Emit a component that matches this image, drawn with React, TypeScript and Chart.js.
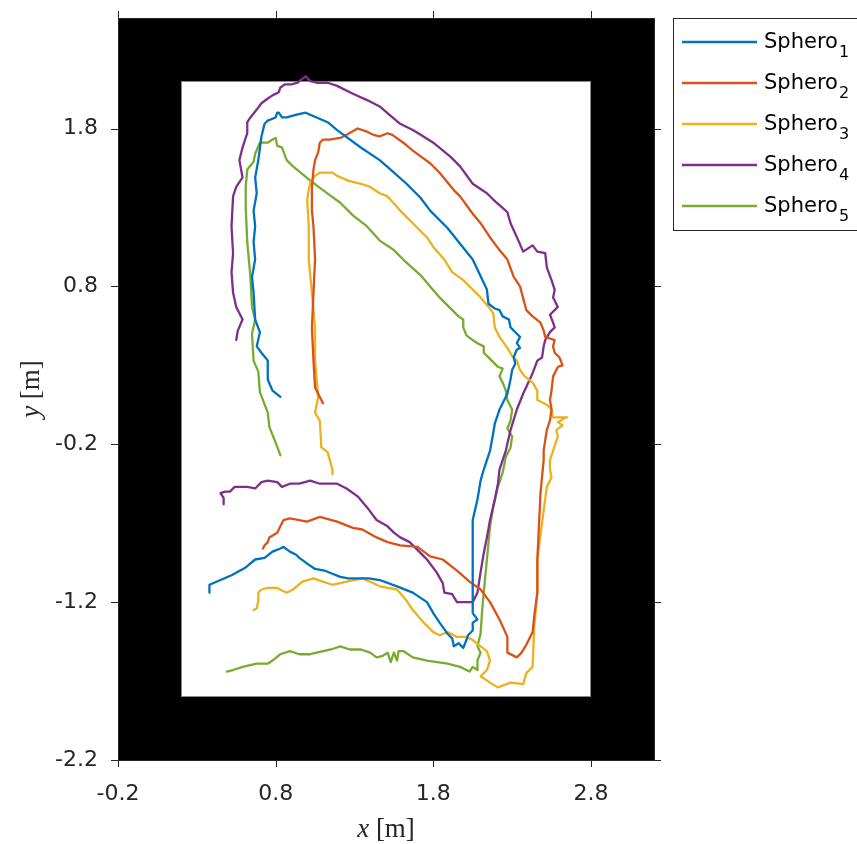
import { useEffect, useRef } from "react";
import { Chart, registerables } from "chart.js";

Chart.register(...registerables);

// ---- data ----
const seriesBase = "Sphero";
const seriesIndex = ["1", "2", "3", "4", "5"];
const seriesColors = ["#0072BD", "#D95319", "#EDB120", "#7E2F8E", "#77AC30"];
const xTicks = [-0.2, 0.8, 1.8, 2.8];
const yTicks = [-2.2, -1.2, -0.2, 0.8, 1.8];
const xRange = [-0.2, 3.2];
const yRange = [-2.2, 2.5];
const arenaX = [0.2, 2.8];
const arenaY = [-1.8, 2.1];

const sphero1: [number, number][] = [
  [0.38, -1.14], [0.38, -1.09], [0.45, -1.06], [0.52, -1.03], [0.61, -0.98], [0.67, -0.93],
  [0.73, -0.92], [0.78, -0.88], [0.83, -0.86], [0.85, -0.85], [0.89, -0.88], [0.93, -0.9],
  [0.95, -0.92], [1.02, -0.97], [1.05, -0.99], [1.11, -1.0], [1.16, -1.02], [1.21, -1.04],
  [1.26, -1.05], [1.32, -1.05], [1.39, -1.05], [1.46, -1.06], [1.57, -1.1], [1.67, -1.14],
  [1.76, -1.2], [1.8, -1.27], [1.84, -1.33], [1.89, -1.4], [1.92, -1.43], [1.93, -1.48],
  [1.96, -1.46], [1.99, -1.49], [2.01, -1.44], [2.02, -1.41], [2.05, -1.38], [2.05, -1.33],
  [2.08, -1.31], [2.05, -1.27], [2.05, -1.2], [2.05, -0.93], [2.05, -0.68], [2.08, -0.55],
  [2.1, -0.43], [2.12, -0.36], [2.16, -0.24], [2.18, -0.13], [2.19, -0.07], [2.22, 0.02],
  [2.24, 0.06], [2.27, 0.12], [2.29, 0.21], [2.3, 0.27], [2.32, 0.31], [2.31, 0.35],
  [2.33, 0.4], [2.35, 0.41], [2.33, 0.44], [2.35, 0.48], [2.33, 0.5], [2.29, 0.54],
  [2.28, 0.59], [2.24, 0.61], [2.22, 0.65], [2.19, 0.66], [2.15, 0.69], [2.14, 0.78],
  [2.05, 0.97], [1.97, 1.07], [1.89, 1.17], [1.78, 1.28], [1.72, 1.36], [1.63, 1.45],
  [1.54, 1.53], [1.46, 1.6], [1.34, 1.68], [1.19, 1.79], [1.13, 1.84], [1.06, 1.87],
  [0.99, 1.9], [0.94, 1.89], [0.87, 1.87], [0.84, 1.87], [0.82, 1.9], [0.81, 1.9],
  [0.8, 1.87], [0.75, 1.85], [0.73, 1.83], [0.72, 1.79], [0.71, 1.75], [0.69, 1.6],
  [0.67, 1.49], [0.68, 1.39], [0.66, 1.28], [0.67, 1.18], [0.66, 1.08], [0.67, 0.97],
  [0.65, 0.86], [0.66, 0.76], [0.67, 0.59], [0.7, 0.51], [0.68, 0.42], [0.71, 0.38],
  [0.75, 0.33], [0.75, 0.21], [0.78, 0.14], [0.83, 0.1],
];

const sphero2: [number, number][] = [
  [0.72, -0.86], [0.73, -0.84], [0.75, -0.82], [0.76, -0.79], [0.81, -0.76], [0.83, -0.72],
  [0.85, -0.68], [0.89, -0.67], [1.0, -0.69], [1.08, -0.66], [1.19, -0.69], [1.29, -0.73],
  [1.35, -0.74], [1.44, -0.79], [1.51, -0.82], [1.59, -0.84], [1.7, -0.85], [1.78, -0.91],
  [1.86, -0.93], [1.95, -1.0], [2.03, -1.07], [2.1, -1.12], [2.16, -1.2], [2.22, -1.31],
  [2.27, -1.42], [2.27, -1.52], [2.33, -1.55], [2.36, -1.52], [2.39, -1.47], [2.43, -1.39],
  [2.44, -1.29], [2.46, -1.14], [2.46, -0.93], [2.47, -0.72], [2.48, -0.51], [2.5, -0.3],
  [2.5, -0.24], [2.52, -0.11], [2.54, -0.05], [2.55, 0.02], [2.54, 0.08], [2.55, 0.14],
  [2.56, 0.23], [2.59, 0.29], [2.62, 0.3], [2.6, 0.35], [2.57, 0.38], [2.56, 0.42],
  [2.57, 0.46], [2.54, 0.47], [2.51, 0.48], [2.5, 0.52], [2.48, 0.57], [2.43, 0.61],
  [2.39, 0.65], [2.35, 0.8], [2.31, 0.86], [2.27, 0.97], [2.22, 1.03], [2.16, 1.11],
  [2.1, 1.2], [2.05, 1.26], [1.97, 1.37], [1.93, 1.41], [1.84, 1.52], [1.78, 1.58],
  [1.67, 1.66], [1.61, 1.71], [1.54, 1.76], [1.51, 1.77], [1.46, 1.75], [1.42, 1.76],
  [1.38, 1.78], [1.32, 1.8], [1.25, 1.76], [1.21, 1.74], [1.14, 1.73], [1.1, 1.73],
  [1.08, 1.71], [1.07, 1.65], [1.05, 1.6], [1.04, 1.54], [1.03, 1.43], [1.03, 1.28],
  [1.04, 1.18], [1.05, 0.97], [1.04, 0.76], [1.03, 0.54], [1.04, 0.33], [1.05, 0.16],
  [1.08, 0.1], [1.1, 0.06],
];

const sphero3: [number, number][] = [
  [0.66, -1.25], [0.68, -1.24], [0.69, -1.19], [0.69, -1.14], [0.71, -1.12], [0.75, -1.11],
  [0.81, -1.11], [0.87, -1.14], [0.91, -1.12], [0.97, -1.07], [1.04, -1.05], [1.1, -1.07],
  [1.16, -1.09], [1.25, -1.07], [1.35, -1.05], [1.42, -1.08], [1.46, -1.1], [1.57, -1.12],
  [1.63, -1.19], [1.67, -1.25], [1.74, -1.33], [1.8, -1.39], [1.84, -1.41], [1.89, -1.39],
  [1.95, -1.42], [2.01, -1.42], [2.05, -1.44], [2.1, -1.48], [2.14, -1.51], [2.16, -1.57],
  [2.14, -1.63], [2.1, -1.67], [2.16, -1.71], [2.21, -1.74], [2.29, -1.71], [2.37, -1.72],
  [2.39, -1.65], [2.43, -1.61], [2.44, -1.36], [2.46, -1.14], [2.46, -0.93], [2.5, -0.62],
  [2.52, -0.47], [2.55, -0.41], [2.54, -0.36], [2.54, -0.3], [2.56, -0.24], [2.59, -0.15],
  [2.58, -0.11], [2.62, -0.08], [2.59, -0.06], [2.64, -0.03], [2.65, -0.03], [2.56, -0.03],
  [2.55, 0.02], [2.52, 0.05], [2.46, 0.08], [2.46, 0.14], [2.43, 0.19], [2.38, 0.23],
  [2.35, 0.27], [2.33, 0.33], [2.3, 0.36], [2.27, 0.41], [2.22, 0.48], [2.19, 0.54],
  [2.18, 0.63], [2.15, 0.67], [2.1, 0.73], [2.05, 0.78], [1.99, 0.84], [1.92, 0.89],
  [1.87, 0.97], [1.8, 1.05], [1.76, 1.11], [1.67, 1.2], [1.59, 1.28], [1.51, 1.37],
  [1.46, 1.39], [1.4, 1.43], [1.34, 1.45], [1.26, 1.47], [1.19, 1.5], [1.16, 1.52],
  [1.13, 1.52], [1.08, 1.52], [1.05, 1.5], [1.02, 1.46], [1.01, 1.41], [1.0, 1.35],
  [1.01, 1.18], [1.01, 0.97], [1.03, 0.76], [1.05, 0.54], [1.05, 0.33], [1.07, 0.1],
  [1.05, 0.0], [1.08, -0.05], [1.09, -0.22], [1.13, -0.25], [1.16, -0.36], [1.16, -0.39],
];

const sphero4: [number, number][] = [
  [0.47, -0.58], [0.47, -0.54], [0.45, -0.51], [0.48, -0.5], [0.51, -0.5], [0.54, -0.47],
  [0.62, -0.47], [0.67, -0.48], [0.71, -0.44], [0.75, -0.43], [0.81, -0.44], [0.84, -0.47],
  [0.89, -0.45], [0.95, -0.45], [1.02, -0.43], [1.08, -0.45], [1.19, -0.45], [1.25, -0.48],
  [1.32, -0.53], [1.38, -0.6], [1.44, -0.68], [1.51, -0.72], [1.55, -0.76], [1.59, -0.79],
  [1.65, -0.82], [1.72, -0.89], [1.76, -0.93], [1.82, -1.01], [1.86, -1.08], [1.87, -1.14],
  [1.92, -1.15], [1.95, -1.2], [2.01, -1.2], [2.05, -1.2], [2.08, -1.14], [2.1, -1.01],
  [2.12, -0.89], [2.14, -0.79], [2.16, -0.68], [2.19, -0.55], [2.21, -0.45], [2.22, -0.36],
  [2.26, -0.24], [2.29, -0.11], [2.33, 0.02], [2.37, 0.12], [2.43, 0.25], [2.46, 0.33],
  [2.49, 0.35], [2.5, 0.42], [2.51, 0.46], [2.54, 0.51], [2.57, 0.54], [2.56, 0.57],
  [2.54, 0.62], [2.59, 0.67], [2.56, 0.73], [2.57, 0.78], [2.55, 0.84], [2.52, 0.92],
  [2.51, 1.01], [2.46, 1.02], [2.43, 1.06], [2.37, 1.02], [2.34, 1.09], [2.29, 1.2],
  [2.27, 1.27], [2.18, 1.35], [2.14, 1.39], [2.05, 1.45], [1.97, 1.56], [1.91, 1.62],
  [1.8, 1.71], [1.72, 1.76], [1.67, 1.79], [1.59, 1.83], [1.53, 1.88], [1.46, 1.94],
  [1.38, 1.98], [1.29, 2.02], [1.19, 2.07], [1.13, 2.09], [1.06, 2.09], [1.02, 2.1],
  [0.99, 2.13], [0.95, 2.1], [0.94, 2.09], [0.9, 2.08], [0.86, 2.08], [0.83, 2.06],
  [0.82, 2.03], [0.78, 2.01], [0.75, 1.99], [0.71, 1.96], [0.68, 1.92], [0.64, 1.87],
  [0.62, 1.84], [0.62, 1.77], [0.59, 1.68], [0.57, 1.6], [0.59, 1.49], [0.55, 1.43],
  [0.53, 1.37], [0.52, 1.18], [0.53, 1.01], [0.52, 0.89], [0.53, 0.76], [0.55, 0.67],
  [0.59, 0.59], [0.56, 0.52], [0.55, 0.46],
];

const sphero5: [number, number][] = [
  [0.49, -1.64], [0.53, -1.63], [0.59, -1.61], [0.68, -1.59], [0.75, -1.59], [0.78, -1.57],
  [0.83, -1.53], [0.89, -1.51], [0.95, -1.53], [1.02, -1.53], [1.06, -1.52], [1.15, -1.5],
  [1.21, -1.48], [1.27, -1.5], [1.34, -1.5], [1.4, -1.52], [1.44, -1.55], [1.48, -1.54],
  [1.51, -1.52], [1.53, -1.58], [1.55, -1.52], [1.57, -1.57], [1.58, -1.51], [1.61, -1.51],
  [1.67, -1.55], [1.76, -1.57], [1.89, -1.59], [1.97, -1.61], [2.03, -1.64], [2.05, -1.61],
  [2.08, -1.63], [2.08, -1.57], [2.1, -1.52], [2.08, -1.48], [2.1, -1.4], [2.11, -1.25],
  [2.12, -1.14], [2.14, -0.93], [2.16, -0.72], [2.18, -0.6], [2.21, -0.47], [2.24, -0.38],
  [2.26, -0.28], [2.29, -0.22], [2.3, -0.15], [2.27, -0.1], [2.29, -0.05], [2.3, 0.02],
  [2.27, 0.08], [2.26, 0.14], [2.24, 0.19], [2.22, 0.23], [2.24, 0.28], [2.21, 0.29],
  [2.18, 0.32], [2.15, 0.35], [2.12, 0.38], [2.12, 0.42], [2.08, 0.44], [2.05, 0.46],
  [2.01, 0.49], [1.99, 0.54], [1.99, 0.59], [1.96, 0.61], [1.93, 0.64], [1.89, 0.68],
  [1.84, 0.73], [1.78, 0.8], [1.72, 0.87], [1.63, 0.95], [1.55, 1.03], [1.46, 1.09],
  [1.38, 1.18], [1.29, 1.25], [1.21, 1.33], [1.1, 1.41], [1.02, 1.47], [0.91, 1.56],
  [0.87, 1.6], [0.84, 1.68], [0.81, 1.69], [0.8, 1.74], [0.78, 1.73], [0.75, 1.71],
  [0.7, 1.71], [0.67, 1.64], [0.66, 1.59], [0.62, 1.54], [0.61, 1.43], [0.61, 1.3],
  [0.62, 1.08], [0.64, 0.86], [0.65, 0.67], [0.67, 0.59], [0.65, 0.5], [0.66, 0.33],
  [0.69, 0.26], [0.7, 0.13], [0.75, 0.0], [0.76, -0.09], [0.8, -0.19], [0.83, -0.27],
];

const allSeries = [sphero1, sphero2, sphero3, sphero4, sphero5];

// ---- style ----
const AXIS_COLOR = "#262626";
const TICK_FONT = "DejaVu Sans";
const TICK_SIZE = 22;
const LEGEND_SIZE = 21;
const TICK_LEN = 7;

const decorPlugin = {
  id: "matlabDecor",
  beforeDatasetsDraw(chart: any) {
    const { ctx, chartArea: a, scales } = chart;
    ctx.save();
    ctx.fillStyle = "#000000";
    ctx.fillRect(a.left, a.top, a.right - a.left, a.bottom - a.top);
    const x0 = scales.x.getPixelForValue(arenaX[0]);
    const x1 = scales.x.getPixelForValue(arenaX[1]);
    const yTop = scales.y.getPixelForValue(arenaY[1]);
    const yBot = scales.y.getPixelForValue(arenaY[0]);
    ctx.fillStyle = "#ffffff";
    ctx.fillRect(x0, yTop, x1 - x0, yBot - yTop);
    ctx.strokeStyle = "#8a8a8a";
    ctx.lineWidth = 1;
    ctx.strokeRect(Math.round(x0) + 0.5, Math.round(yTop) + 0.5,
      Math.round(x1 - x0) - 1, Math.round(yBot - yTop) - 1);
    ctx.restore();
  },
  afterDraw(chart: any) {
    const { ctx, chartArea: a, scales } = chart;
    ctx.save();
    // frame
    ctx.strokeStyle = AXIS_COLOR;
    ctx.lineWidth = 1;
    ctx.strokeRect(Math.round(a.left) + 0.5, Math.round(a.top) + 0.5,
      Math.round(a.right - a.left), Math.round(a.bottom - a.top));
    // ticks outward on all four sides
    ctx.beginPath();
    for (const v of xTicks) {
      const px = Math.round(scales.x.getPixelForValue(v)) + 0.5;
      ctx.moveTo(px, a.bottom); ctx.lineTo(px, a.bottom + TICK_LEN);
      ctx.moveTo(px, a.top); ctx.lineTo(px, a.top - TICK_LEN);
    }
    for (const v of yTicks) {
      const py = Math.round(scales.y.getPixelForValue(v)) + 0.5;
      ctx.moveTo(a.left, py); ctx.lineTo(a.left - TICK_LEN, py);
      ctx.moveTo(a.right, py); ctx.lineTo(a.right + TICK_LEN, py);
    }
    ctx.stroke();

    // axis titles (LaTeX-like)
    ctx.fillStyle = AXIS_COLOR;
    ctx.textBaseline = "alphabetic";
    ctx.textAlign = "left";
    const it = "italic 27px 'Liberation Serif'";
    const up = "27px 'Liberation Serif'";
    const drawTitle = (v: string, rest: string, cx: number, by: number) => {
      ctx.font = it; const w1 = ctx.measureText(v).width;
      ctx.font = up; const w2 = ctx.measureText(rest).width;
      const sx = cx - (w1 + w2) / 2;
      ctx.font = it; ctx.fillText(v, sx, by);
      ctx.font = up; ctx.fillText(rest, sx + w1, by);
    };
    drawTitle("x", " [m]", (a.left + a.right) / 2, 837);
    ctx.save();
    ctx.translate(39, (a.top + a.bottom) / 2);
    ctx.rotate(-Math.PI / 2);
    drawTitle("y", " [m]", 0, 0);
    ctx.restore();

    // legend
    const lx = a.right + 19;
    const ly = a.top;
    ctx.fillStyle = "#ffffff";
    ctx.fillRect(lx, ly, 300, 212);
    ctx.strokeStyle = AXIS_COLOR;
    ctx.strokeRect(lx + 0.5, ly + 0.5, 300, 212);
    chart.data.datasets.forEach((ds: any, i: number) => {
      const ry = ly + 24 + i * 41;
      ctx.strokeStyle = ds.borderColor;
      ctx.lineWidth = 2.3;
      ctx.beginPath();
      ctx.moveTo(lx + 9, ry); ctx.lineTo(lx + 84, ry);
      ctx.stroke();
      ctx.fillStyle = "#000000";
      ctx.font = `${LEGEND_SIZE}px '${TICK_FONT}'`;
      ctx.fillText(seriesBase, lx + 91, ry + 6);
      const w = ctx.measureText(seriesBase).width;
      ctx.font = `16px '${TICK_FONT}'`;
      ctx.fillText(seriesIndex[i], lx + 91 + w + 1, ry + 15);
    });
    ctx.restore();
  },
};

export default function App() {
  const ref = useRef<HTMLCanvasElement>(null);
  useEffect(() => {
    const canvas = ref.current;
    if (!canvas) return;
    const chart = new Chart(canvas, {
      type: "scatter",
      data: {
        datasets: allSeries.map((s, i) => ({
          label: seriesBase + seriesIndex[i],
          data: s.map(([x, y]) => ({ x, y })),
          showLine: true,
          borderColor: seriesColors[i],
          backgroundColor: seriesColors[i],
          borderWidth: 2.3,
          borderJoinStyle: "round" as const,
          borderCapStyle: "round" as const,
          pointRadius: 0,
          pointHoverRadius: 0,
          tension: 0,
          fill: false,
        })),
      },
      options: {
        animation: false,
        responsive: false,
        maintainAspectRatio: false,
        events: [],
        layout: { padding: { left: 0, right: 203, top: 18, bottom: 0 } },
        plugins: { legend: { display: false }, tooltip: { enabled: false } },
        scales: {
          x: {
            type: "linear",
            min: xRange[0],
            max: xRange[1],
            afterBuildTicks: (s: any) => { s.ticks = xTicks.map((v) => ({ value: v })); },
            afterFit: (s: any) => { s.height = 84; s.paddingLeft = 0; s.paddingRight = 0; },
            grid: { display: false, drawTicks: false },
            border: { display: false },
            ticks: {
              color: AXIS_COLOR,
              font: { family: TICK_FONT, size: TICK_SIZE },
              padding: 21,
              maxRotation: 0,
              callback: (v: any) => Number(v).toFixed(1),
            },
          },
          y: {
            type: "linear",
            min: yRange[0],
            max: yRange[1],
            afterBuildTicks: (s: any) => { s.ticks = yTicks.map((v) => ({ value: v })); },
            afterFit: (s: any) => { s.width = 118; s.paddingTop = 0; s.paddingBottom = 0; },
            grid: { display: false, drawTicks: false },
            border: { display: false },
            ticks: {
              color: AXIS_COLOR,
              font: { family: TICK_FONT, size: TICK_SIZE },
              padding: 20,
              callback: (v: any) => Number(v).toFixed(1),
            },
          },
        },
      },
      plugins: [decorPlugin],
    });
    return () => chart.destroy();
  }, []);
  return (
    <div style={{ position: "fixed", left: 0, top: 0, width: 857, height: 844, background: "#fff" }}>
      <canvas ref={ref} width={857} height={844} style={{ display: "block", width: 857, height: 844 }} />
    </div>
  );
}
